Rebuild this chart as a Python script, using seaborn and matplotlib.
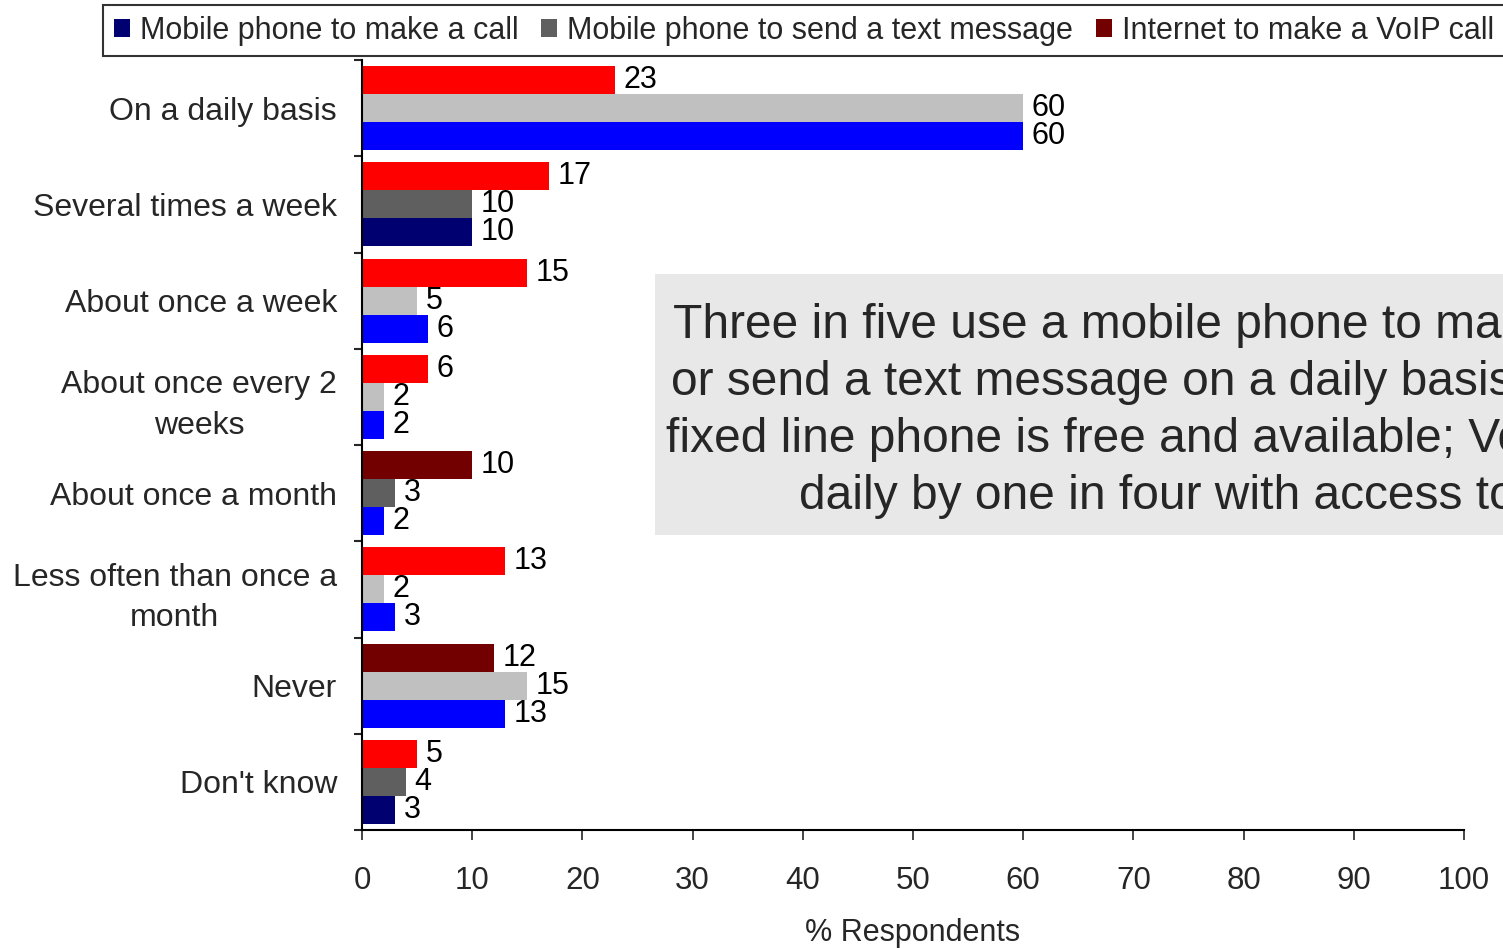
import matplotlib
matplotlib.use("Agg")
import matplotlib.pyplot as plt
import pandas as pd
import seaborn as sns
from matplotlib.patches import Patch, Rectangle

categories = ["On a daily basis", "Several times a week", "About once a week",
              "About once every 2\nweeks", "About once a month",
              "Less often than once a\nmonth", "Never", "Don't know"]
series = ["Mobile phone to make a call",
          "Mobile phone to send a text message",
          "Internet to make a VoIP call"]
call_values = [60, 10, 6, 2, 2, 3, 13, 3]
text_values = [60, 10, 5, 2, 3, 2, 15, 4]
voip_values = [23, 17, 15, 6, 10, 13, 12, 5]
# True where the bar is drawn in the darker tone of its series
call_dark = [False, True, False, False, False, False, False, True]
text_dark = [False, True, False, False, True, False, False, True]
voip_dark = [False, False, False, False, True, False, True, False]
x_ticks = list(range(0, 101, 10))

tones = {
    series[0]: ("#0000FF", "#000070"),
    series[1]: ("#C0C0C0", "#5F5F5F"),
    series[2]: ("#FF0000", "#730000"),
}
dark_flags = {series[0]: call_dark, series[1]: text_dark, series[2]: voip_dark}

df = pd.DataFrame({
    "category": categories * 3,
    "series": [series[0]] * 8 + [series[1]] * 8 + [series[2]] * 8,
    "value": call_values + text_values + voip_values,
})

sns.set_style("ticks")
plt.rcParams["font.family"] = ["Liberation Sans", "DejaVu Sans"]

fig = plt.figure(figsize=(15.03, 9.48), dpi=100)
ax = fig.add_axes([362 / 1503, 1 - 830 / 948, (1464 - 362) / 1503, (830 - 60) / 948])

hue_order = [series[2], series[1], series[0]]
sns.barplot(data=df, y="category", x="value", hue="series", order=categories,
            hue_order=hue_order, orient="h", width=0.875, gap=0,
            legend=False, ax=ax, saturation=1, errorbar=None)

for name, cont in zip(hue_order, ax.containers):
    light, dark = tones[name]
    for bar, flag in zip(cont.patches, dark_flags[name]):
        bar.set_facecolor(dark if flag else light)
        bar.set_edgecolor("none")
    ax.bar_label(cont, fmt="%g", padding=6, fontsize=22, color="black")

ax.set_xlim(0, 100)
ax.set_ylim(len(categories) - 0.5, -0.5)
ax.set_xticks(x_ticks)
ax.set_xticklabels([str(t) for t in x_ticks], fontsize=22.5)
ax.set_yticks(range(len(categories)))
ax.set_yticklabels(categories, fontsize=23, linespacing=1.45,
                   multialignment="center")
ax.set_yticks([i - 0.5 for i in range(len(categories) + 1)], minor=True)
ax.tick_params(axis="y", which="major", length=0, pad=18)
ax.tick_params(axis="y", which="minor", length=6, width=1.5, direction="out")
ax.tick_params(axis="x", which="major", length=7, width=1.2, direction="out", pad=19)
ax.set_xlabel("% Respondents", fontsize=22, labelpad=16)
ax.set_ylabel("")
for side in ("top", "right"):
    ax.spines[side].set_visible(False)
for side in ("left", "bottom"):
    ax.spines[side].set_linewidth(1.5)
    ax.spines[side].set_color("black")

handles = [Patch(facecolor=tones[s][1], edgecolor="none") for s in series]
leg = fig.legend(handles, series, loc="upper left",
                 bbox_to_anchor=(103 / 1503, 1 - 5 / 948), ncol=3, fontsize=22,
                 frameon=True, fancybox=False, edgecolor="black",
                 handlelength=0.52, handleheight=0.52, handletextpad=0.33,
                 columnspacing=0.75, borderpad=0.35, borderaxespad=0)
leg.get_frame().set_linewidth(1.5)

# Commentary panel on the right
fig.patches.append(Rectangle((655 / 1503, 1 - 535 / 948), 1.0, (535 - 274) / 948,
                             transform=fig.transFigure, facecolor="#E8E8E8",
                             edgecolor="none", zorder=3))
note_lines = [
    ("Three in five use a mobile phone to make a call", 673),
    ("or send a text message on a daily basis when a", 671),
    ("fixed line phone is free and available; VoIP is used", 666),
    ("daily by one in four with access to it", 799),
]
for i, (line, x0) in enumerate(note_lines):
    fig.text(x0 / 1503, 1 - (338 + 57 * i) / 948, line, fontsize=34.5,
             ha="left", va="baseline", zorder=4)

fig.savefig("out.png", dpi=100)
